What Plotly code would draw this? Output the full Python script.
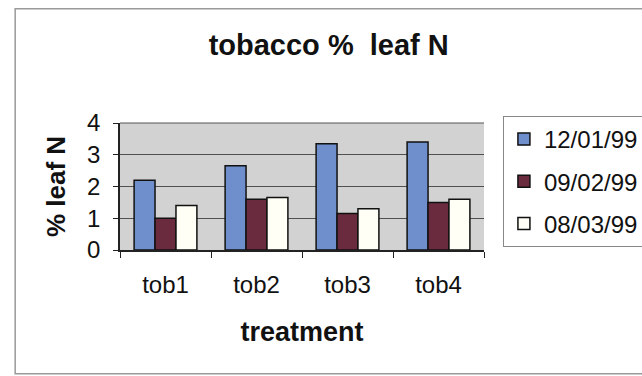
import plotly.graph_objects as go

treatments = ["tob1", "tob2", "tob3", "tob4"]
dates = ["12/01/99", "09/02/99", "08/03/99"]
leaf_n_jan = [2.2, 2.65, 3.35, 3.4]
leaf_n_feb = [1.0, 1.6, 1.15, 1.5]
leaf_n_mar = [1.4, 1.65, 1.3, 1.6]
y_ticks = [0, 1, 2, 3, 4]

fills = ["#6f8fcc", "#6a2b3e", "#fffff5"]
series = [leaf_n_jan, leaf_n_feb, leaf_n_mar]

fig = go.Figure()
for name, vals, col in zip(dates, series, fills):
    fig.add_trace(go.Bar(
        x=treatments, y=vals, name=name, legendgroup=name,
        marker=dict(color=col, line=dict(color="#111111", width=1.5)),
    ))

font = "Liberation Sans, Arial, sans-serif"
fig.update_layout(
    width=642, height=376,
    margin=dict(l=120, r=158, t=123, b=126, autoexpand=False),
    paper_bgcolor="white",
    plot_bgcolor="#d2d2d2",
    barmode="group",
    bargap=0.31,
    bargroupgap=0,
    font=dict(family=font, color="#111111", size=24),
    title=dict(text="<b>tobacco %  leaf N</b>", x=0.512, xanchor="center",
               y=0.88, yanchor="middle", font=dict(size=29, family=font)),
    legend=dict(
        x=1.052, xanchor="left", y=1.055, yanchor="top",
        bgcolor="white", bordercolor="#888888", borderwidth=1,
        font=dict(size=24, family=font), tracegroupgap=8,
        itemwidth=30,
    ),
    xaxis=dict(
        title=dict(text="<b>treatment</b>", font=dict(size=27), standoff=26),
        showline=True, linecolor="#222222", linewidth=1.5,
        ticks="outside", ticklen=6, tickcolor="#222222",
        tickson="boundaries", showgrid=False, ticklabelstandoff=12,
    ),
    yaxis=dict(
        title=dict(text="<b>% leaf N</b>", font=dict(size=26), standoff=14),
        range=[0, 4], tickvals=y_ticks,
        showline=True, linecolor="#222222", linewidth=1.5,
        ticks="outside", ticklen=5, tickcolor="#222222",
        showgrid=True, gridcolor="#505050", gridwidth=1,
        zeroline=False, mirror=False, ticklabelstandoff=8,
    ),
    shapes=[
        dict(type="rect", xref="paper", yref="paper",
             x0=-0.288, x1=1.45, y0=-0.975, y1=1.9,
             line=dict(color="#9a9a9a", width=1.5), layer="below"),
        dict(type="line", xref="paper", yref="paper",
             x0=0, x1=1, y0=1, y1=1,
             line=dict(color="#555555", width=1)),
    ],
)

fig.write_html("out.html")
